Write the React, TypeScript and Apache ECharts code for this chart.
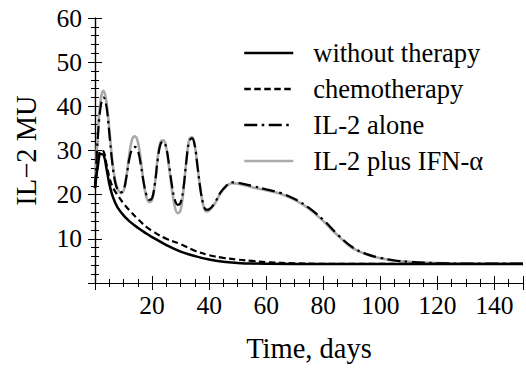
import React, { useEffect, useRef } from "react";
import * as echarts from "echarts";

const FONT = "'Liberation Serif', 'Times New Roman', Times, serif";

const seriesNames = ["without therapy", "chemotherapy", "IL-2 alone", "IL-2 plus IFN-\u03b1"];

// [day, IL-2 MU]
const withoutTherapy: number[][] = [
  [0, 21.5], [1, 26.5], [2, 29.2], [3, 29], [4, 26], [5, 22.5], [6, 20], [7, 18.3], [8, 17],
  [10, 15.3], [12, 14], [15, 12.5], [18, 11.2], [20, 10.4], [25, 8.6], [30, 7.1], [35, 6.1],
  [40, 5.3], [45, 4.8], [50, 4.55], [55, 4.4], [60, 4.35], [80, 4.3], [150, 4.3],
];

const chemotherapy: number[][] = [
  [0, 21.5], [1, 27], [2, 30], [3, 29.8], [4, 27], [5, 24], [6, 22], [7, 20.8], [8, 19.8],
  [10, 18], [12, 16.5], [15, 14.5], [18, 12.7], [20, 11.8], [25, 10], [30, 8.8], [35, 7.3],
  [40, 6.3], [45, 5.7], [50, 5.3], [55, 5.0], [60, 4.7], [70, 4.45], [80, 4.35], [150, 4.3],
];

const il2Alone: number[][] = [
  [0, 21.5], [1, 33], [2, 40], [3, 42], [4, 40], [5, 34], [6, 27.5], [7, 23], [8, 21], [9, 20.5],
  [10, 21], [11, 24], [12, 28], [13, 30.3], [14, 30.8], [15, 30], [16, 27], [17, 23], [18, 20],
  [19, 18.8], [20, 19.2], [21, 22.5], [22, 28], [23, 31.5], [24, 32], [25, 30.5], [26, 26.5],
  [27, 22], [28, 18.8], [29, 17.7], [30, 18.2], [31, 21.5], [32, 27.5], [33, 32], [34, 32.8],
  [35, 31], [36, 26], [37, 21], [38, 17.8], [39, 16.6], [40, 16.7], [42, 18.2], [44, 20.5],
  [46, 22], [48, 22.8], [50, 22.7], [55, 22], [60, 21.2], [65, 20.4], [70, 19], [75, 17],
  [80, 14.3], [85, 11], [90, 8.2], [95, 6.6], [100, 5.7], [105, 5.1], [110, 4.8], [120, 4.5],
  [130, 4.4], [150, 4.4],
];

const il2PlusIfn: number[][] = [
  [0, 21.5], [1, 34], [2, 41.5], [3, 43.5], [4, 41], [5, 35], [6, 28], [7, 23.5], [8, 21.2],
  [9, 20.4], [10, 20.8], [11, 24], [12, 29], [13, 32.5], [14, 33.2], [15, 32], [16, 28], [17, 23],
  [18, 19.5], [19, 18.3], [20, 18.8], [21, 22.5], [22, 28.5], [23, 32], [24, 32.3], [25, 30.5],
  [26, 26], [27, 21], [28, 17.2], [29, 15.8], [30, 16.5], [31, 21], [32, 27.5], [33, 32.5],
  [34, 33], [35, 31], [36, 26], [37, 21], [38, 17.5], [39, 16.2], [40, 16.4], [42, 18],
  [44, 20.3], [46, 21.9], [48, 22.6], [50, 22.5], [55, 21.7], [60, 21], [65, 20.2], [70, 18.8],
  [75, 16.8], [80, 14], [85, 10.8], [90, 8], [95, 6.5], [100, 5.6], [105, 5.1], [110, 4.8],
  [120, 4.5], [130, 4.4], [150, 4.4],
];

const xMin = 0;
const xMax = 150;
const xInterval = 20;
const yMin = 0;
const yMax = 60;
const yInterval = 10;

export default function App() {
  const ref = useRef<HTMLDivElement>(null);

  useEffect(() => {
    if (!ref.current) return;
    const chart = echarts.init(ref.current, undefined, { renderer: "svg" });

    const tickLine = { color: "#000", width: 1 };
    const axisLine = { show: true, lineStyle: { color: "#000", width: 1.2 } };

    const xCommon = {
      type: "value" as const,
      min: xMin,
      max: xMax,
      interval: xInterval,
      axisLine,
      axisTick: { show: true, inside: true, length: 7, lineStyle: tickLine },
      minorTick: { show: true, splitNumber: 4, length: 4, lineStyle: tickLine },
      splitLine: { show: false },
      minorSplitLine: { show: false },
    };
    const yCommon = {
      type: "value" as const,
      min: yMin,
      max: yMax,
      interval: yInterval,
      axisLine,
      axisTick: { show: true, inside: true, length: 7, lineStyle: tickLine },
      minorTick: { show: true, splitNumber: 5, length: 4, lineStyle: tickLine },
      splitLine: { show: false },
      minorSplitLine: { show: false },
    };

    const mkSeries = (name: string, data: number[][], lineStyle: any, z: number) => ({
      name,
      type: "line",
      data,
      showSymbol: false,
      symbol: "none",
      smooth: 0.4,
      lineStyle,
      itemStyle: { color: lineStyle.color },
      z,
      xAxisIndex: 0,
      yAxisIndex: 0,
    });

    chart.setOption({
      animation: false,
      backgroundColor: "#fff",
      grid: { left: 95, right: 1, top: 18, bottom: 85, containLabel: false },
      legend: {
        orient: "vertical",
        left: 243,
        top: 39,
        itemWidth: 49,
        itemHeight: 14,
        itemGap: 8,
        padding: 0,
        selectedMode: false,
        data: seriesNames,
        itemStyle: { opacity: 0, borderWidth: 0 },
        lineStyle: { width: 2.5 },
        textStyle: {
          fontSize: 26.5,
          fontFamily: FONT,
          color: "#000",
          lineHeight: 28,
          padding: [0, 0, 0, 15],
        },
      },
      xAxis: [
        {
          ...xCommon,
          position: "bottom",
          axisLabel: {
            show: true,
            fontSize: 25.5,
            fontFamily: FONT,
            color: "#000",
            margin: 9,
            formatter: (v: number) => (v === 0 || v === 150 ? "" : String(v)),
          },
          name: "Time, days",
          nameLocation: "middle",
          nameGap: 51,
          nameTextStyle: { fontSize: 28.5, fontFamily: FONT, color: "#000" },
        },
        { ...xCommon, position: "top", axisLabel: { show: false } },
      ],
      yAxis: [
        {
          ...yCommon,
          position: "left",
          axisLabel: {
            show: true,
            fontSize: 25.5,
            fontFamily: FONT,
            color: "#000",
            margin: 13,
            formatter: (v: number) => (v === 0 ? "" : String(v)),
          },
          name: "IL\u22122 MU",
          nameLocation: "middle",
          nameGap: 54,
          nameTextStyle: { fontSize: 28.5, fontFamily: FONT, color: "#000" },
        },
        { ...yCommon, position: "right", axisLabel: { show: false } },
      ],
      series: [
        mkSeries(seriesNames[0], withoutTherapy, { color: "#000", width: 2.5, type: "solid" }, 3),
        mkSeries(seriesNames[1], chemotherapy, { color: "#000", width: 2.2, type: [6.5, 3.5] }, 3),
        mkSeries(seriesNames[2], il2Alone, { color: "#000", width: 2.2, type: [13, 4.5, 2.5, 4.5] }, 4),
        mkSeries(seriesNames[3], il2PlusIfn, { color: "#aaaaaa", width: 2.6, type: "solid" }, 2),
      ],
    });

    return () => chart.dispose();
  }, []);

  return (
    <div
      ref={ref}
      style={{ position: "fixed", left: 0, top: 0, width: 526, height: 368, background: "#fff" }}
    />
  );
}
